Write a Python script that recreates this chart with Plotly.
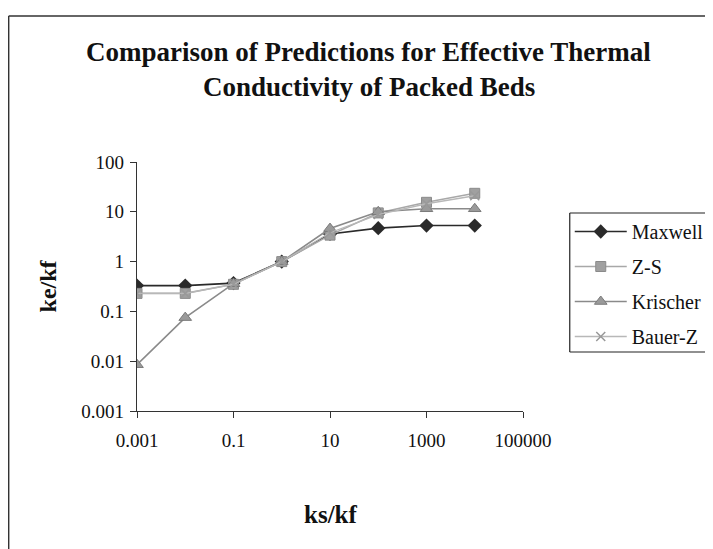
import plotly.graph_objects as go

ks_kf = [0.001, 0.01, 0.1, 1, 10, 100, 1000, 10000]
maxwell = [0.33, 0.33, 0.37, 1.0, 3.6, 4.7, 5.3, 5.3]
zs = [0.23, 0.23, 0.35, 1.0, 3.4, 9.5, 15.5, 23.5]
krischer = [0.0085, 0.075, 0.36, 1.0, 4.6, 10.0, 11.5, 11.5]
bauer_z = [0.23, 0.23, 0.35, 1.0, 3.8, 8.8, 14.5, 21.0]

x_tickvals = [0.001, 0.1, 10, 1000, 100000]
x_ticktext = ["0.001", "0.1", "10", "1000", "100000"]
y_tickvals = [0.001, 0.01, 0.1, 1, 10, 100]
y_ticktext = ["0.001", "0.01", "0.1", "1", "10", "100"]

FONT = "Liberation Serif, Times New Roman, serif"

fig = go.Figure()
fig.add_trace(go.Scatter(x=ks_kf, y=maxwell, name="Maxwell", mode="lines+markers", legendgroup="a",
                         line=dict(color="#2a2a2a", width=1.6),
                         marker=dict(symbol="diamond", size=11, color="#2a2a2a")))
fig.add_trace(go.Scatter(x=ks_kf, y=zs, name="Z-S", mode="lines+markers", legendgroup="b",
                         line=dict(color="#a8a8a8", width=1.6),
                         marker=dict(symbol="square", size=10, color="#a0a0a0",
                                     line=dict(color="#8a8a8a", width=1))))
fig.add_trace(go.Scatter(x=ks_kf, y=krischer, name="Krischer", mode="lines+markers", legendgroup="c",
                         line=dict(color="#8a8a8a", width=1.6),
                         marker=dict(symbol="triangle-up", size=11, color="#9a9a9a",
                                     line=dict(color="#7a7a7a", width=1))))
fig.add_trace(go.Scatter(x=ks_kf, y=bauer_z, name="Bauer-Z", mode="lines+markers", legendgroup="d",
                         line=dict(color="#b8b8b8", width=1.3),
                         marker=dict(symbol="x-thin", size=9, color="#999999",
                                     line=dict(color="#999999", width=1.5))))

# page body adds an 8px margin; work in screen pixels and shift back
OFF = 8
L, R, T, B = 137 - OFF, 525 - OFF, 162 - OFF, 411 - OFF
W, H = 713, 549
pw, ph = R - L, B - T

def px(x):
    return (x - OFF - L) / pw

def py(y):
    return (B - (y - OFF)) / ph

fig.update_layout(
    width=W, height=H,
    margin=dict(l=L, r=W - R, t=T, b=H - B, pad=0),
    paper_bgcolor="white", plot_bgcolor="white",
    font=dict(family=FONT, size=18, color="#111111"),
    showlegend=True,
    legend=dict(x=px(572), y=py(212), xanchor="left", yanchor="top",
                borderwidth=0, bgcolor="rgba(0,0,0,0)",
                font=dict(family=FONT, size=20, color="#111111"),
                tracegroupgap=6, itemwidth=52),
    shapes=[
        dict(type="line", xref="paper", yref="paper",
             x0=px(8), x1=px(8), y0=py(600), y1=py(16),
             line=dict(color="#333333", width=1.5), layer="below"),
        dict(type="line", xref="paper", yref="paper",
             x0=px(8), x1=px(760), y0=py(16), y1=py(16),
             line=dict(color="#333333", width=1.5), layer="below"),
        # legend box (extends past the right edge like the reference)
        dict(type="line", xref="paper", yref="paper",
             x0=px(572), x1=px(572), y0=py(352), y1=py(213),
             line=dict(color="#222222", width=1.2), layer="below"),
        dict(type="line", xref="paper", yref="paper",
             x0=px(572), x1=px(760), y0=py(213), y1=py(213),
             line=dict(color="#222222", width=1.2), layer="below"),
        dict(type="line", xref="paper", yref="paper",
             x0=px(572), x1=px(760), y0=py(352), y1=py(352),
             line=dict(color="#222222", width=1.2), layer="below"),
    ],
    annotations=[
        dict(text="<b>Comparison of Predictions for Effective Thermal</b>", xref="paper", yref="paper",
             x=px(370), y=py(52), showarrow=False, font=dict(family=FONT, size=27, color="#111111"),
             xanchor="center", yanchor="middle"),
        dict(text="<b>Conductivity of Packed Beds</b>", xref="paper", yref="paper",
             x=px(370), y=py(87), showarrow=False, font=dict(family=FONT, size=27, color="#111111"),
             xanchor="center", yanchor="middle"),
        dict(text="<b>ke/kf</b>", xref="paper", yref="paper", x=px(48), y=py(286),
             showarrow=False, textangle=-90, font=dict(family=FONT, size=24, color="#111111"),
             xanchor="center", yanchor="middle"),
        dict(text="<b>ks/kf</b>", xref="paper", yref="paper", x=px(332), y=py(514),
             showarrow=False, font=dict(family=FONT, size=25, color="#111111"),
             xanchor="center", yanchor="middle"),
    ],
)

fig.update_xaxes(type="log", range=[-3, 5], tickvals=x_tickvals, ticktext=x_ticktext,
                 showline=True, linecolor="#333333", linewidth=1.2, ticks="outside",
                 ticklen=6, tickcolor="#333333", showgrid=False, zeroline=False,
                 tickfont=dict(family=FONT, size=19), ticklabelstandoff=6)
fig.update_yaxes(type="log", range=[-3, 2], tickvals=y_tickvals, ticktext=y_ticktext,
                 showline=True, linecolor="#333333", linewidth=1.2, ticks="outside",
                 ticklen=6, tickcolor="#333333", showgrid=False, zeroline=False,
                 tickfont=dict(family=FONT, size=19), ticklabelstandoff=2)

fig.write_html("out.html",
               post_script="document.documentElement.style.overflow='hidden';document.body.style.overflow='hidden';")
